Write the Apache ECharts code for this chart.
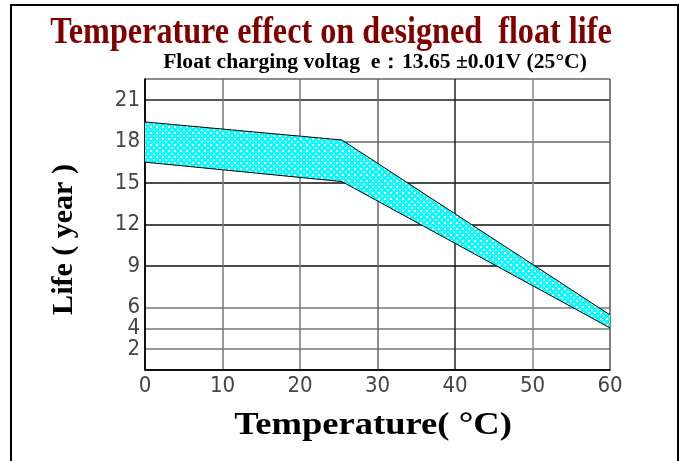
<!DOCTYPE html>
<html><head><meta charset="utf-8">
<script src="https://cdn.jsdelivr.net/npm/echarts@6/dist/echarts.min.js"></script>
<style>html,body{margin:0;padding:0;background:#fff}#c{width:683px;height:461px}</style>
</head><body><div id="c"></div>
<script>
// ---- data ----
const temperatures = [0, 25.4, 60];          // °C
const lifeUpper   = [19.4, 18.1, 5.3];       // years (upper edge of band)
const lifeLower   = [16.5, 15.1, 4.05];      // years (lower edge of band)
const xTickLabels = [0, 10, 20, 30, 40, 50, 60];
const yTickLabels = [2, 4, 6, 9, 12, 15, 18, 21];
const titleText    = 'Temperature effect on designed  float life';
const subtitleText = 'Float charging voltag  e：13.65 ±0.01V (25°C)';
const xName = 'Temperature( °C)';
const yName = 'Life ( year )';

// The reference y scale is piecewise: 0–6 years uses half the density of 6–21 years.
function toU(v) { return v <= 6 ? v / 2 : 3 + (v - 6) * 2 / 3; }
const yMaxU = toU(22.5);
const labelByU = {};
yTickLabels.forEach(v => { labelByU[toU(v).toFixed(3)] = String(v); });
const yLineU = [0].concat(yTickLabels.map(toU), [yMaxU]);
// labels split over two coincident axes so that tightly spaced ones are not dropped
const yLabelsA = yTickLabels.filter((v, i) => i % 2 === 0).map(toU);
const yLabelsB = yTickLabels.filter((v, i) => i % 2 === 1).map(toU);

// white dots laid over the cyan fill
const pat = document.createElement('canvas');
pat.width = 6; pat.height = 6;
const pc = pat.getContext('2d');
pc.fillStyle = '#ffffff';
pc.fillRect(0, 0, 2, 2); pc.fillRect(3, 3, 2, 2);

const upperData = temperatures.map((t, i) => [t, toU(lifeUpper[i])]);
const lowerData = temperatures.map((t, i) => [t, toU(lifeLower[i])]);
const bandData  = temperatures.map((t, i) => [t, toU(lifeUpper[i]), toU(lifeLower[i])]);

const labelFont = "'Liberation Sans Narrow','DejaVu Sans Condensed',sans-serif";
const yLabelBase = {margin: 5, fontFamily: labelFont, fontSize: 22, color: '#444',
  showMinLabel: true, showMaxLabel: true, hideOverlap: false,
  formatter: u => labelByU[Number(u).toFixed(3)] || ''};

const chart = echarts.init(document.getElementById('c'), null, {renderer: 'canvas'});
chart.setOption({
  animation: false,
  backgroundColor: '#fff',
  grid: {left: 145, right: 73, top: 79, bottom: 91},
  graphic: [
    {type: 'rect', silent: true, z: -10, shape: {x: 11, y: 5, width: 667, height: 480},
     style: {fill: 'none', stroke: '#000', lineWidth: 2}},
    {type: 'text', x: 331, y: 33, scaleX: 0.87,
     style: {text: titleText, fill: '#800000', font: "bold 37px 'Liberation Serif'", align: 'center', verticalAlign: 'middle'}},
    {type: 'text', x: 375, y: 63, scaleX: 1.08,
     style: {text: subtitleText, fill: '#000', font: "bold 20px 'Liberation Serif'", align: 'center', verticalAlign: 'middle'}},
    {type: 'text', x: 373, y: 426, scaleX: 1.18,
     style: {text: xName, fill: '#000', font: "bold 31px 'Liberation Serif'", align: 'center', verticalAlign: 'middle'}}
  ],
  xAxis: {
    type: 'value', min: 0, max: 60, interval: 10,
    axisLine: {lineStyle: {color: '#000', width: 1.5}},
    axisTick: {show: false},
    axisLabel: {margin: 5, fontFamily: labelFont, fontSize: 22, color: '#444',
      formatter: v => xTickLabels.indexOf(v) >= 0 ? String(v) : ''},
    splitLine: {show: true, lineStyle: {color: ['#000', '#777', '#777', '#666', '#222', '#888', '#555'], width: 1.5}}
  },
  yAxis: [{
    type: 'value', min: 0, max: yMaxU, position: 'left',
    name: yName, nameLocation: 'middle', nameGap: 66,
    nameTextStyle: {fontFamily: 'Liberation Serif', fontWeight: 'bold', fontSize: 30, color: '#000', padding: [0, 30, 0, 0]},
    axisLine: {lineStyle: {color: '#000', width: 1.5}},
    axisTick: {show: false, customValues: yLineU},
    axisLabel: Object.assign({customValues: yLabelsA}, yLabelBase),
    splitLine: {show: true, lineStyle: {
      color: ['#000', '#777', '#777', '#777', '#111', '#111', '#111', '#666', '#222', '#666'], width: 1.5}}
  }, {
    type: 'value', min: 0, max: yMaxU, position: 'left', offset: 0,
    axisLine: {show: false}, axisTick: {show: false}, splitLine: {show: false},
    axisLabel: Object.assign({customValues: yLabelsB}, yLabelBase)
  }],
  series: [
    {name: 'Life band', type: 'custom', data: bandData, z: 2,
     encode: {x: 0, y: [1, 2]},
     renderItem: function (params, api) {
       const i = params.dataIndexInside;
       if (i >= params.dataInsideLength - 1) return null;
       const x0 = api.value(0, i), x1 = api.value(0, i + 1);
       const pts = [
         api.coord([x0, api.value(1, i)]), api.coord([x1, api.value(1, i + 1)]),
         api.coord([x1, api.value(2, i + 1)]), api.coord([x0, api.value(2, i)])
       ];
       return {type: 'group', children: [
         {type: 'polygon', shape: {points: pts}, style: {fill: '#00ffff', stroke: null, opacity: 1}},
         {type: 'polygon', shape: {points: pts}, style: {fill: {image: pat, repeat: 'repeat'}, stroke: null, opacity: 1}}
       ]};
     }},
    {name: 'Upper', type: 'line', data: upperData, symbol: 'none',
     lineStyle: {color: '#000', width: 1}, z: 3},
    {name: 'Lower', type: 'line', data: lowerData, symbol: 'none',
     lineStyle: {color: '#000', width: 1}, z: 3}
  ]
});
</script></body></html>
